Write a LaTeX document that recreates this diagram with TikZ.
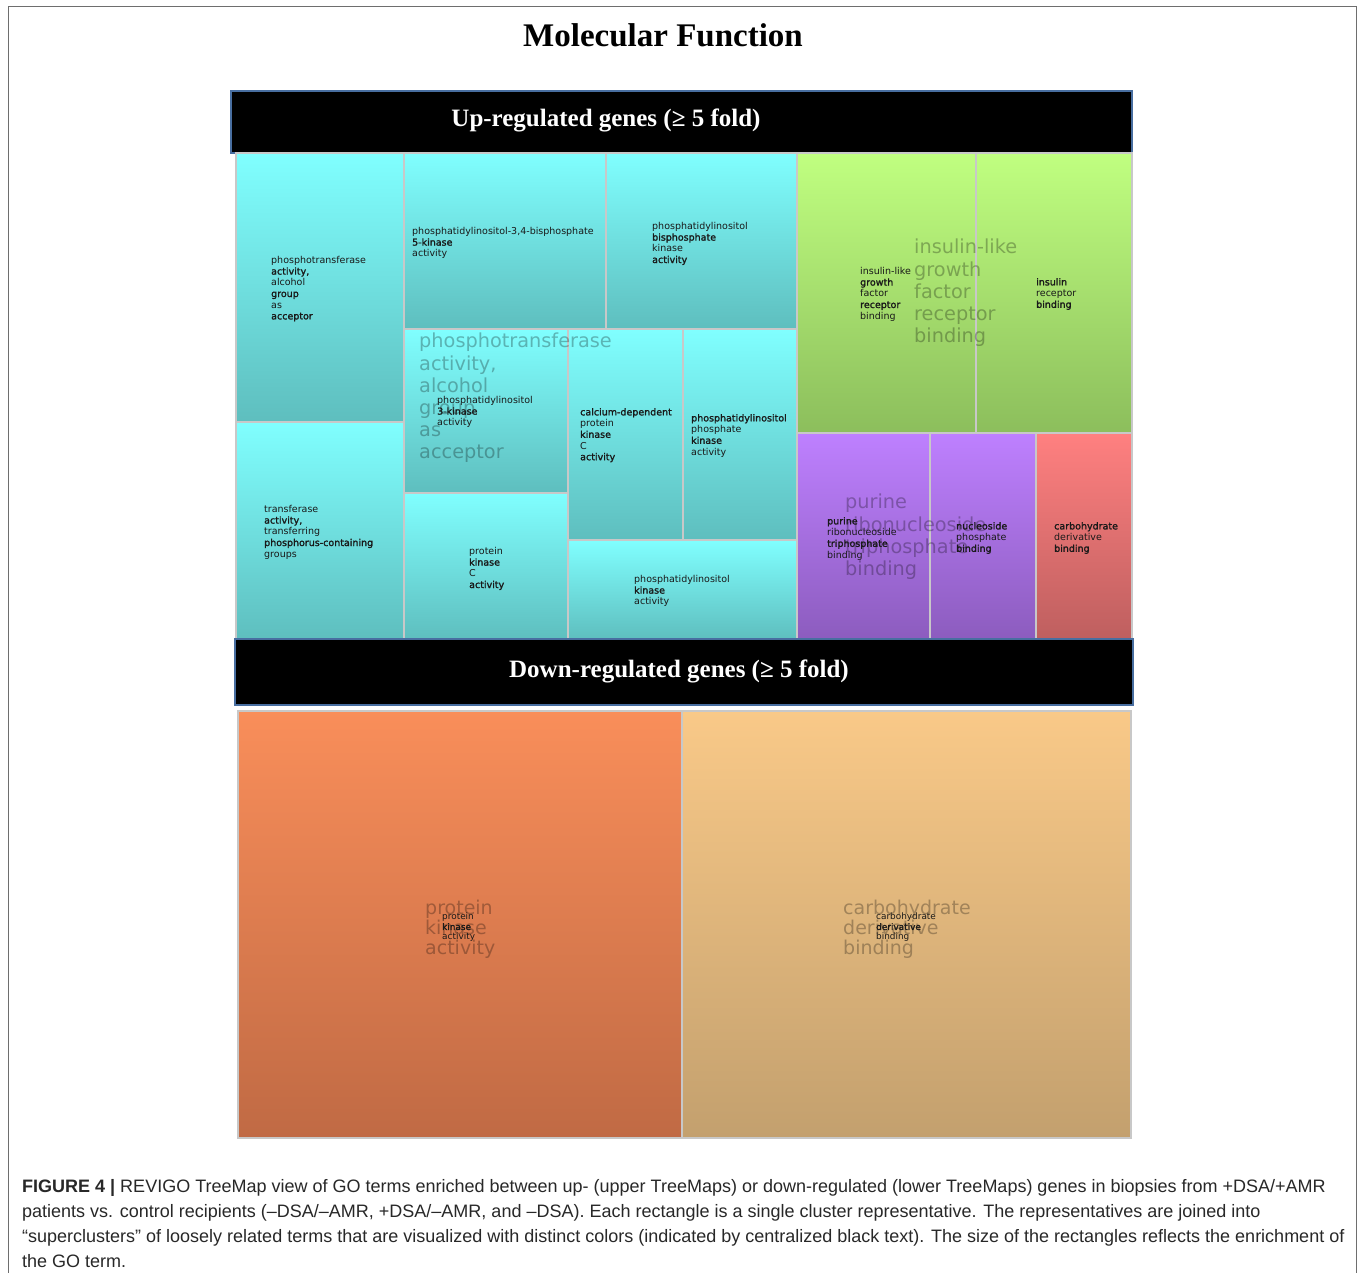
\documentclass[tikz,border=0pt]{standalone}
\usepackage{fontspec}
\setmainfont{Liberation Serif}
\setsansfont{Liberation Sans}
\newfontfamily\capfont{Liberation Sans}
\newfontfamily\cellfont[BoldFont={DejaVu Sans}, BoldFeatures={FakeBold=1.6}]{DejaVu Sans}
\definecolor{cyantop}{RGB}{128,255,255}
\definecolor{cyanbot}{RGB}{94,190,190}
\definecolor{greentop}{RGB}{192,255,128}
\definecolor{greenbot}{RGB}{140,190,92}
\definecolor{purpletop}{RGB}{190,128,255}
\definecolor{purplebot}{RGB}{140,92,190}
\definecolor{redtop}{RGB}{255,128,128}
\definecolor{redbot}{RGB}{190,95,95}
\definecolor{orangetop}{RGB}{249,142,90}
\definecolor{orangebot}{RGB}{192,106,68}
\definecolor{tantop}{RGB}{249,201,136}
\definecolor{tanbot}{RGB}{195,160,110}
\definecolor{cellline}{RGB}{200,200,200}
\definecolor{headline}{RGB}{72,110,160}
\definecolor{framegray}{RGB}{110,110,110}
\definecolor{captext}{RGB}{40,40,40}
\newcommand\cellbox[5]{\fill[top color=#5top, bottom color=#5bot] (#1,#2) rectangle (#3,#4);
  \draw[cellborder] (#1,#2) rectangle (#3,#4);}
\begin{document}
\begin{tikzpicture}[x=1pt,y=-1pt,
  cellborder/.style={draw=cellline, line width=1.3pt},
  small/.style={anchor=north west, inner sep=0pt, align=left, text=black!90,
    font=\cellfont\fontsize{9.5}{11.2}\selectfont},
  smaller/.style={anchor=north west, inner sep=0pt, align=left, text=black!90,
    font=\cellfont\fontsize{8.9}{10}\selectfont},
  bigtext/.style={anchor=north west, inner sep=0pt, align=left, text=black, text opacity=0.28,
    font=\cellfont\fontsize{19.3}{22.2}\selectfont},
  bigtextb/.style={anchor=north west, inner sep=0pt, align=left, text=black, text opacity=0.28,
    font=\cellfont\fontsize{19}{20}\selectfont},
  header/.style={fill=black, draw=headline, line width=1.5pt},
  headtext/.style={text=white, font=\bfseries\fontsize{25}{28}\selectfont, inner sep=0pt},
  captxt/.style={anchor=base west, inner sep=0pt, text=captext, font=\capfont\fontsize{18}{20}\selectfont}
]
\useasboundingbox (0,0) rectangle (1358,1273);
\fill[white] (0,0) rectangle (1358,1273);
\draw[framegray, line width=1pt] (8,1273) -- (8,7) -- (1356,7) -- (1356,1273);

\node[font=\bfseries\fontsize{33}{36}\selectfont, inner sep=0pt] (title) at (663,35) {Molecular Function};

% up header
\draw[header] (231,91) rectangle (1132,153);
\node[headtext] (uptitle) at (606,120) {Up-regulated genes (≥ 5 fold)};

% cyan cells
\cellbox{236}{153}{404}{422}{cyan}
\cellbox{236}{422}{404}{640}{cyan}
\cellbox{404}{153}{606}{329}{cyan}
\cellbox{606}{153}{797}{329}{cyan}
\cellbox{404}{329}{568}{493}{cyan}
\cellbox{568}{329}{683}{540}{cyan}
\cellbox{683}{329}{797}{540}{cyan}
\cellbox{404}{493}{568}{640}{cyan}
\cellbox{568}{540}{797}{640}{cyan}
% green
\cellbox{797}{153}{976}{433}{green}
\cellbox{976}{153}{1132}{433}{green}
% purple/red
\cellbox{797}{433}{930}{640}{purple}
\cellbox{930}{433}{1036}{640}{purple}
\cellbox{1036}{433}{1132}{640}{red}

% big supercluster labels
\node[bigtext] (bigA) at (419,333) {phosphotransferase\\activity,\\alcohol\\group\\as\\acceptor};
\node[bigtext] (bigJ) at (914,239) {insulin-like\\growth\\factor\\receptor\\binding};
\node[bigtext] (bigL) at (845,494) {purine\\ribonucleoside\\triphosphate\\binding};

% small labels
\node[small] (tA) at (271,256) {phosphotransferase\\\textbf{activity,}\\alcohol\\\textbf{group}\\as\\\textbf{acceptor}};
\node[small] (tB) at (264,505) {transferase\\\textbf{activity,}\\transferring\\\textbf{phosphorus-containing}\\groups};
\node[small] (tC) at (412,227) {phosphatidylinositol-3,4-bisphosphate\\\textbf{5-kinase}\\activity};
\node[small] (tD) at (652,222) {phosphatidylinositol\\\textbf{bisphosphate}\\kinase\\\textbf{activity}};
\node[small] (tE) at (437,396) {phosphatidylinositol\\\textbf{3-kinase}\\activity};
\node[small] (tF) at (580,408) {\textbf{calcium-dependent}\\protein\\\textbf{kinase}\\C\\\textbf{activity}};
\node[small] (tG) at (691,414) {\textbf{phosphatidylinositol}\\phosphate\\\textbf{kinase}\\activity};
\node[small] (tH) at (469,547) {protein\\\textbf{kinase}\\C\\\textbf{activity}};
\node[small] (tI) at (634,575) {phosphatidylinositol\\\textbf{kinase}\\activity};
\node[small] (tJ) at (860,267) {insulin-like\\\textbf{growth}\\factor\\\textbf{receptor}\\binding};
\node[small] (tK) at (1036,278) {\textbf{insulin}\\receptor\\\textbf{binding}};
\node[small] (tL) at (827,517) {\textbf{purine}\\ribonucleoside\\\textbf{triphosphate}\\binding};
\node[small] (tM) at (956,522) {\textbf{nucleoside}\\phosphate\\\textbf{binding}};
\node[small] (tN) at (1054,522) {\textbf{carbohydrate}\\derivative\\\textbf{binding}};

% down header
\draw[header] (235,639) rectangle (1133,705);
\node[headtext] (downtitle) at (679,671) {Down-regulated genes (≥ 5 fold)};

% bottom cells
\cellbox{238}{711}{682}{1138}{orange}
\cellbox{682}{711}{1131}{1138}{tan}
\node[bigtextb] (bigO) at (425,900) {protein\\kinase\\activity};
\node[bigtextb] (bigP) at (843,900) {carbohydrate\\derivative\\binding};
\node[smaller] (tO) at (442,913) {protein\\\textbf{kinase}\\activity};
\node[smaller] (tP) at (876,913) {carbohydrate\\\textbf{derivative}\\binding};

% caption
\node[captxt] (cap1) at (22,1192) {\textbf{FIGURE 4 |} REVIGO TreeMap view of GO terms enriched between up- (upper TreeMaps) or down-regulated (lower TreeMaps) genes in biopsies from +DSA/+AMR};
\node[captxt] (cap2) at (22,1217) {patients vs. control recipients (–DSA/–AMR, +DSA/–AMR, and –DSA). Each rectangle is a single cluster representative. The representatives are joined into};
\node[captxt] (cap3) at (22,1242) {“superclusters” of loosely related terms that are visualized with distinct colors (indicated by centralized black text). The size of the rectangles reflects the enrichment of};
\node[captxt] (cap4) at (22,1267) {the GO term.};
\end{tikzpicture}
\end{document}
